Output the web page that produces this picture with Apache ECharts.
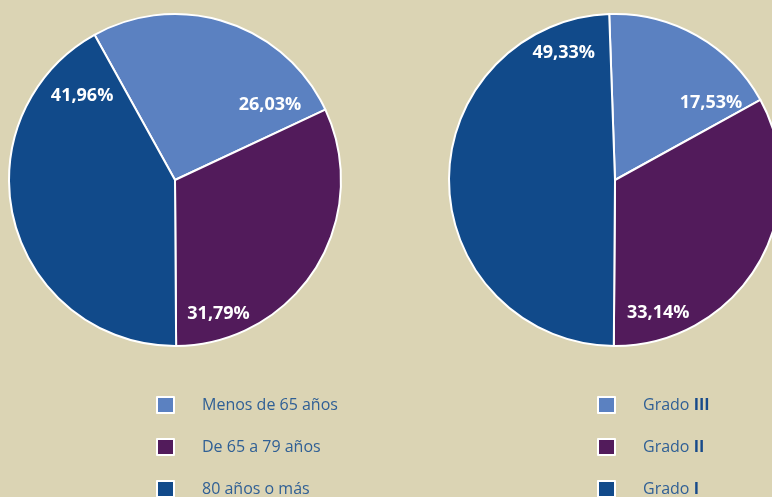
<!DOCTYPE html>
<html>
<head>
<meta charset="utf-8">
<script src="https://cdn.jsdelivr.net/npm/echarts@6/dist/echarts.min.js"></script>
<style>
  html, body { margin: 0; padding: 0; background: #dbd4b4; }
</style>
</head>
<body>
<div id="chart" style="width: 772px; height: 497px"></div>
<script>
// datos
const edadNames = ["Menos de 65 años", "De 65 a 79 años", "80 años o más"];
const edadValues = [26.03, 31.79, 41.96];
const gradoNames = ["Grado III", "Grado II", "Grado I"];
const gradoValues = [17.53, 33.14, 49.33];

const colors = ["#5b81c1", "#521b5b", "#114a8a"];
const centers = [[175, 180], [615, 180]];
const radius = 166;
// posición de las etiquetas: [ángulo en grados, distancia al centro]
const labelSpots = [
  [[38.3, 121], [-72, 141], [138, 125]],
  [[38.7, 123], [-72, 140], [112, 137]],
];

const chart = echarts.init(document.getElementById("chart"));

function fmt(v) {
  return v.toFixed(2).replace(".", ",") + "%";
}

function pieSeries(idx, names, values) {
  return {
    type: "pie",
    center: centers[idx],
    radius: radius,
    startAngle: idx === 0 ? 119 : 92,
    clockwise: true,
    silent: true,
    animation: false,
    itemStyle: { borderColor: "#fff", borderWidth: 2 },
    label: {
      show: true,
      position: "inside",
      color: "#fff",
      fontFamily: "Open Sans",
      fontWeight: "bold",
      fontSize: 18,
      formatter: (p) => fmt(p.value),
    },
    labelLine: { show: false },
    labelLayout: (p) => {
      const s = labelSpots[idx][p.dataIndex];
      const a = (s[0] * Math.PI) / 180;
      return {
        x: centers[idx][0] + s[1] * Math.cos(a),
        y: centers[idx][1] - s[1] * Math.sin(a),
        align: "center",
        verticalAlign: "middle",
      };
    },
    data: names.map((n, i) => ({ name: n, value: values[i] })),
  };
}

function legend(left, names, rich) {
  return {
    orient: "vertical",
    left: left,
    top: 396,
    height: 160,
    padding: 0,
    icon: "rect",
    itemWidth: 17,
    itemHeight: 16,
    itemGap: 24,
    selectedMode: false,
    data: names,
    itemStyle: { borderColor: "#fff", borderWidth: 2 },
    formatter: rich
      ? (n) => n.replace(/ (I+)$/, " {b|$1}")
      : (n) => n,
    textStyle: {
      color: "#2f5f95",
      fontFamily: "Open Sans",
      fontSize: 16,
      padding: [0, 0, 0, 23],
      rich: {
        b: {
          color: "#174a8a",
          fontFamily: "Open Sans",
          fontWeight: "bold",
          fontSize: 16,
        },
      },
    },
  };
}

const option = {
  backgroundColor: "#dbd4b4",
  color: colors,
  legend: [legend(156, edadNames, false), legend(597, gradoNames, true)],
  series: [pieSeries(0, edadNames, edadValues), pieSeries(1, gradoNames, gradoValues)],
};
chart.setOption(option);
</script>
</body>
</html>
